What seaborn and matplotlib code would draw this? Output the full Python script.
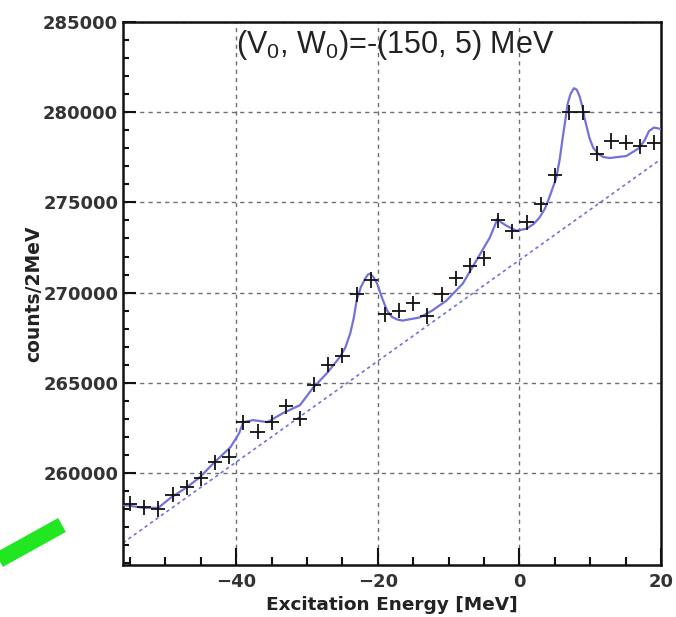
import numpy as np
import pandas as pd
import matplotlib
matplotlib.use("Agg")
import matplotlib.pyplot as plt
from matplotlib.lines import Line2D
from matplotlib.ticker import MultipleLocator
import seaborn as sns

# Measured spectrum: bin centres (MeV) and counts per 2 MeV bin
energy = [-55, -53, -51, -49, -47, -45, -43, -41, -39, -37, -35, -33, -31,
          -29, -27, -25, -23, -21, -19, -17, -15, -13, -11, -9, -7, -5,
          -3, -1, 1, 3, 5, 7, 9, 11, 13, 15, 17, 19]
counts = [258300, 258100, 258000, 258800, 259200, 259700, 260600, 260900,
          262800, 262300, 262800, 263700, 263000, 264900, 266000, 266500,
          269900, 270700, 268800, 269000, 269400, 268700, 269900, 270800,
          271500, 271900, 274000, 273400, 273900, 274900, 276500, 280000,
          280000, 277700, 278400, 278300, 278100, 278300]
count_err = [420] * len(counts)
bin_half_width = [1.0] * len(energy)

# Fitted spectrum (signal + background)
fit_energy = [-55.9, -53.1, -51.0, -49.3, -46.9, -45.1, -43.2, -40.8, -39.6,
              -39.0, -37.6, -35.6, -33.4, -31.0, -29.2, -27.2, -25.4, -24.6,
              -23.9, -23.4, -23.0, -22.4, -21.8, -21.4, -21.1, -20.6, -20.1,
              -19.4, -18.7, -18.0, -17.2, -16.5, -14.1, -12.3, -10.3, -8.0,
              -6.1, -4.2, -3.5, -3.1, -2.6, -1.8, -0.4, 1.0, 2.0, 2.8, 3.6,
              4.2, 5.2, 5.7, 6.1, 6.5, 6.8, 7.2, 7.7, 8.1, 8.5, 8.9, 9.2,
              9.9, 10.4, 11.0, 11.8, 12.7, 15.1, 16.9, 17.7, 18.3, 19.0,
              19.4, 20.0]
fit_counts = [258230, 258070, 258070, 258620, 259230, 259780, 260550, 261440,
              262200, 262820, 262930, 262820, 263320, 263760, 264700, 265530,
              266410, 266950, 267740, 268600, 269560, 270300, 270770, 271000,
              271050, 270850, 270500, 269700, 269000, 268650, 268500, 268450,
              268620, 269010, 269560, 270500, 271770, 273040, 273700, 274090,
              273900, 273700, 273430, 273540, 273800, 274140, 274650, 275250,
              276350, 277400, 278560, 279600, 280440, 281000, 281330, 281250,
              280880, 280300, 279670, 278560, 278050, 277740, 277520, 277460,
              277570, 278010, 278450, 278950, 279150, 279120, 279060]

# Linear background of the fit
bg_energy = [-56, 20]
bg_counts = [256130, 277400]

x_ticks = [-40, -20, 0, 20]
y_ticks = [260000, 265000, 270000, 275000, 280000, 285000]

title_text = r"(V$_0$, W$_0$)=-(150, 5) MeV"
x_label = "Excitation Energy [MeV]"
y_label = "counts/2MeV"

sns.set_theme(style="white")
plt.rcParams["font.family"] = ["DejaVu Sans"]
plt.rcParams["mathtext.fontset"] = "custom"
plt.rcParams["mathtext.rm"] = "Liberation Sans"
plt.rcParams["mathtext.it"] = "Liberation Sans"

fit_color = "#7272dc"

fig = plt.figure(figsize=(6.76, 6.17), dpi=100)
ax = fig.add_axes([123 / 676, 1 - 565 / 617, 538 / 676, 543 / 617])

fit_df = pd.DataFrame({"E": fit_energy, "N": fit_counts})
bg_df = pd.DataFrame({"E": bg_energy, "N": bg_counts})
sns.lineplot(data=bg_df, x="E", y="N", ax=ax, color=fit_color, lw=1.2,
             linestyle=(0, (2, 2)), estimator=None, zorder=2)
sns.lineplot(data=fit_df, x="E", y="N", ax=ax, color=fit_color, lw=1.6,
             estimator=None, zorder=3)
for line in ax.lines:
    line.set_solid_joinstyle("round")

ax.errorbar(energy, counts, xerr=bin_half_width, yerr=count_err, fmt="none",
            ecolor="#111111", elinewidth=1.3, capsize=0, zorder=4)

ax.set_xlim(-56, 20)
ax.set_ylim(254900, 285000)
ax.set_xticks(x_ticks)
ax.set_yticks(y_ticks)
ax.xaxis.set_minor_locator(MultipleLocator(5))
ax.yaxis.set_minor_locator(MultipleLocator(1000))

ax.grid(True, which="major", color="#6e6e6e", linestyle=(0, (3, 3)), lw=1.0)
ax.set_axisbelow(True)

for side in ["left", "bottom", "top", "right"]:
    ax.spines[side].set_visible(True)
    ax.spines[side].set_color("#111111")
    ax.spines[side].set_linewidth(1.8)

ax.tick_params(axis="x", which="major", direction="in", length=12, width=1.5,
               color="#111111", pad=6, labelsize=13, labelcolor="#333333",
               bottom=True, top=False)
ax.tick_params(axis="x", which="minor", direction="in", length=6, width=1.5,
               color="#111111", bottom=True, top=False)
ax.tick_params(axis="y", which="major", direction="in", length=9.5, width=1.5,
               color="#111111", pad=3.5, labelsize=13, labelcolor="#333333",
               left=True, right=False)
ax.tick_params(axis="y", which="minor", direction="in", length=4.5, width=1.5,
               color="#111111", left=True, right=False)
for lab in ax.get_xticklabels() + ax.get_yticklabels():
    lab.set_fontweight("bold")

ax.set_xlabel(x_label, fontsize=13.3, fontweight="bold", color="#222222")
ax.set_ylabel(y_label, fontsize=13.5, fontweight="bold", color="#222222")
ax.xaxis.set_label_coords(0.5, -0.058)
ax.yaxis.set_label_coords(-0.149, 0.5)

ax.text(0.506, 0.958, title_text, transform=ax.transAxes, ha="center",
        va="center", fontsize=22, family="Liberation Sans", color="#222222")

# Green pointer bar at the lower left
fig.add_artist(Line2D([-12 / 676, 62 / 676],
                      [1 - 566 / 617, 1 - 525 / 617],
                      transform=fig.transFigure, color="#22e622", lw=11.5,
                      solid_capstyle="butt"))

fig.savefig("out.png", dpi=100)
